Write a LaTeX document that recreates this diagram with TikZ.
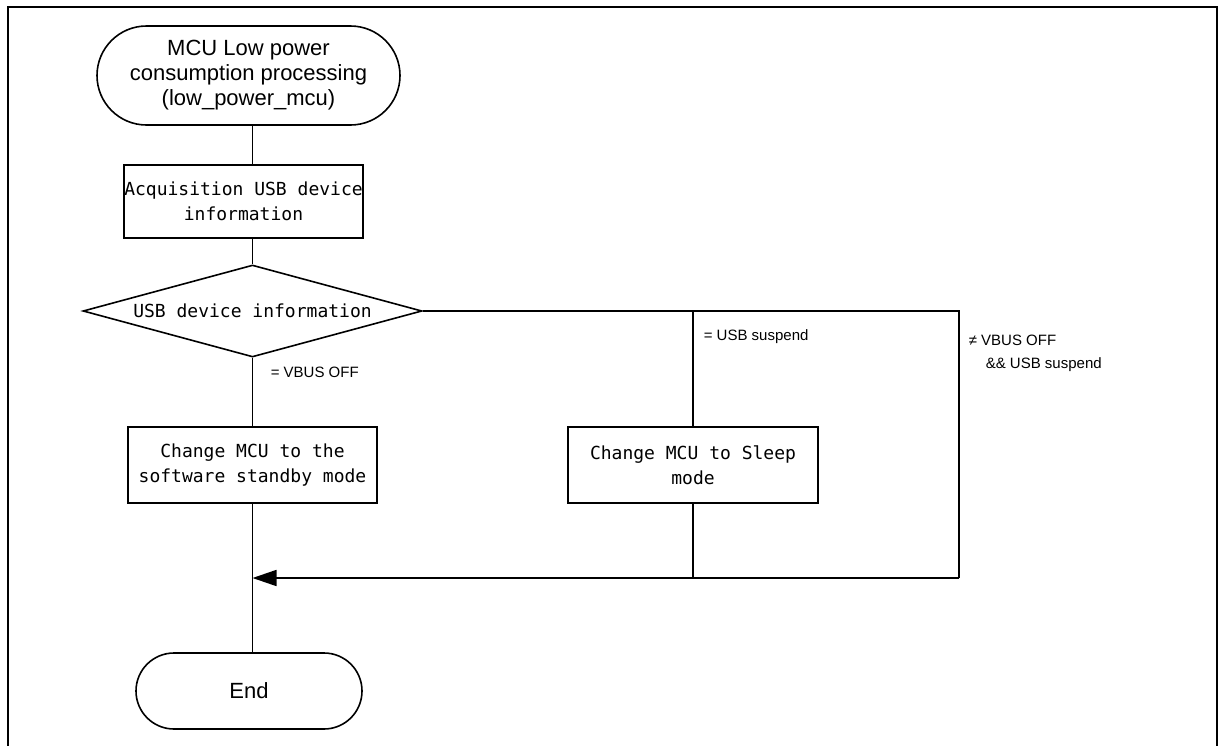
\documentclass[tikz,border=0pt]{standalone}
\usepackage{fontspec}
\setmainfont{Liberation Sans}
\newfontfamily\boxfont{DejaVu Sans Mono}
\usetikzlibrary{shapes.geometric,shapes.misc,arrows.meta}
\begin{document}
\begin{tikzpicture}[x=1pt,y=-1pt,line width=1.6pt,
  term/.style={draw, rounded rectangle, inner sep=0pt, align=center, font=\fontsize{22}{25}\selectfont},
  proc/.style={draw, rectangle, inner sep=0pt, align=center, font=\boxfont\fontsize{18}{25}\selectfont},
  dec/.style={draw, diamond, aspect=3.7, inner sep=0pt, minimum width=339pt, minimum height=92pt, font=\boxfont\fontsize{18}{25}\selectfont},
  lbl/.style={anchor=west, inner sep=0pt, align=left, font=\fontsize{15}{23}\selectfont},
  frame/.style={line width=2.6pt}]
\useasboundingbox (0,0) rectangle (1219,745);
\draw[frame] (8,760) -- (8,7) -- (1217,7) -- (1217,760);

\node[term, minimum width=303pt, minimum height=99pt] (start) at (248.5,75.5) {MCU Low power\\consumption processing\\(low\_power\_mcu)};
\node[proc, minimum width=231pt, minimum height=73pt] (acq) at (243.5,201.5) {Acquisition USB device\\information};
\node[dec] (dia) at (252.5,311) {USB device information};
\node[proc, minimum width=249pt, minimum height=76pt] (std) at (252.5,465) {Change MCU to the\\software standby mode};
\node[proc, minimum width=250pt, minimum height=76pt] (slp) at (693,465) {Change MCU to Sleep\\mode};
\node[term, minimum width=226pt, minimum height=76pt] (end) at (249,691) {End};

\coordinate (tr) at (959,311);
\coordinate (br) at (959,578);

\draw (start.south -| dia.north) -- (acq.north -| dia.north);
\draw (acq.south -| dia.north) -- (dia.north);
\draw (dia.south) -- (std.north);
\draw (std.south) -- (end.north -| std.south);
\draw (dia.east) -- (tr) -- (br);
\draw (slp.north |- dia.east) -- (slp.north);
\draw (slp.south) -- (slp.south |- br);
\draw[-{Triangle[length=24pt,width=16pt]}] (br) -- (br -| std.south);

\node[lbl] (l1) at (270,372) {= VBUS OFF};
\node[lbl] (l2) at (703,337) {= USB suspend};
\node[lbl] (l3) at (968,353) {≠ VBUS OFF\\\hspace*{17pt}\&\& USB suspend};
\end{tikzpicture}
\end{document}
